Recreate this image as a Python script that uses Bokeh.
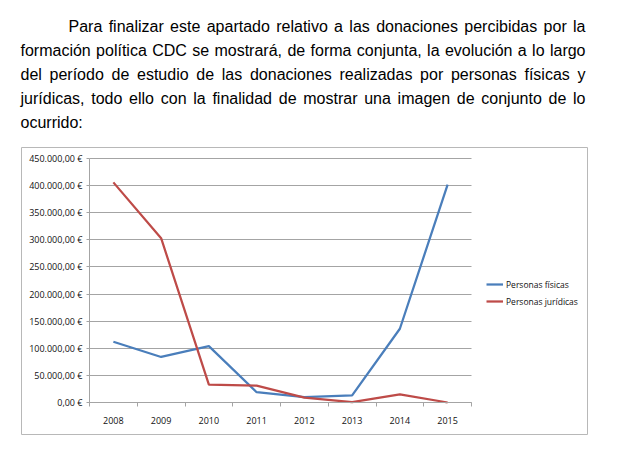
from bokeh.plotting import figure
from bokeh.models import (FixedTicker, Legend, LegendItem, Range1d, Label, BoxAnnotation,
                          Grid)
from bokeh.embed import file_html
from bokeh.resources import INLINE

# ---------------- data ----------------
years = [2008, 2009, 2010, 2011, 2012, 2013, 2014, 2015]
fisicas = [112000, 84000, 104000, 19000, 10000, 13000, 136000, 402000]
juridicas = [406000, 303000, 33000, 31000, 9000, 500, 15000, 0]
series_names = ["Personas físicas", "Personas jurídicas"]
y_ticks = [0, 50000, 100000, 150000, 200000, 250000, 300000, 350000, 400000, 450000]
y_labels = ["0,00 €", "50.000,00 €", "100.000,00 €", "150.000,00 €", "200.000,00 €",
            "250.000,00 €", "300.000,00 €", "350.000,00 €", "400.000,00 €", "450.000,00 €"]
paragraph = [
    "Para finalizar este apartado relativo a las donaciones percibidas por la",
    "formación política CDC se mostrará, de forma conjunta, la evolución a lo largo",
    "del período de estudio de las donaciones realizadas por personas físicas y",
    "jurídicas, todo ello con la finalidad de mostrar una imagen de conjunto de lo",
    "ocurrido:",
]

# ---------------- layout constants (page px, from top-left) ----------------
W, H = 620, 451
PL, PR, PT, PB = 89, 471, 158, 402      # plot area
BOX = (21, 587, 147, 434)               # chart container box: left, right, top, bottom
BLUE, RED = "#4a7ebb", "#be4b48"
GRID = "#a4a4a4"
CHART_FONT = "Open Sans"
TICK_FS = "9px"

# data ranges chosen so the plot area lands at PL..PR / PT..PB while the
# frame covers the whole page (so page texts are not clipped)
x_lo, x_hi = years[0] - 0.5, years[-1] + 0.5
y_lo, y_hi = y_ticks[0], y_ticks[-1]
xpp = (x_hi - x_lo) / (PR - PL)
ypp = (y_hi - y_lo) / (PB - PT)
p = figure(width=W, height=H, output_backend="svg", toolbar_location=None,
           x_range=Range1d(x_lo - PL * xpp, x_hi + (W - PR) * xpp),
           y_range=Range1d(y_lo - (H - PB) * ypp, y_hi + PT * ypp),
           min_border=0, min_border_left=0, min_border_right=0,
           min_border_top=0, min_border_bottom=0)
p.outline_line_color = None
p.background_fill_color = "white"
p.border_fill_color = "white"

# x axis: labels at year centers, tick marks at category boundaries
p.xaxis.fixed_location = y_lo
p.xaxis.bounds = (x_lo, x_hi)
p.xaxis.ticker = FixedTicker(ticks=years,
                             minor_ticks=[y - 0.5 for y in years] + [x_hi])
p.xaxis.major_label_overrides = {y: str(y) for y in years}
p.xaxis.major_tick_out = 0
p.xaxis.major_tick_in = 0
p.xaxis.minor_tick_out = 4
p.xaxis.minor_tick_in = 0
p.xaxis.minor_tick_line_color = GRID
p.xaxis.axis_line_color = GRID
p.xaxis.major_label_standoff = 10
p.xaxis.major_label_text_font = CHART_FONT
p.xaxis.major_label_text_font_size = TICK_FS
p.xaxis.major_label_text_color = "#111111"

# y axis
p.yaxis.fixed_location = x_lo
p.yaxis.bounds = (y_lo, y_hi)
p.yaxis.ticker = FixedTicker(ticks=y_ticks)
p.yaxis.major_label_overrides = dict(zip(y_ticks, y_labels))
p.yaxis.major_tick_out = 3
p.yaxis.major_tick_in = 0
p.yaxis.minor_tick_line_color = None
p.yaxis.major_tick_line_color = GRID
p.yaxis.axis_line_color = GRID
p.yaxis.major_label_standoff = 4
p.yaxis.major_label_text_font = CHART_FONT
p.yaxis.major_label_text_font_size = TICK_FS
p.yaxis.major_label_text_color = "#111111"

p.xgrid.visible = False
p.ygrid.ticker = FixedTicker(ticks=y_ticks)
p.ygrid.bounds = (y_lo, y_hi)
p.ygrid.grid_line_color = GRID
p.ygrid.grid_line_width = 1
if "cross_bounds" in Grid.properties():
    p.ygrid.cross_bounds = (x_lo, x_hi)
else:
    p.ygrid.visible = False
    p.segment(x0=[x_lo] * len(y_ticks), x1=[x_hi] * len(y_ticks), y0=y_ticks, y1=y_ticks,
              line_color=GRID, line_width=1)

# chart container box
p.add_layout(BoxAnnotation(left=BOX[0], right=BOX[1], top=H - BOX[2], bottom=H - BOX[3],
                           left_units="screen", right_units="screen",
                           top_units="screen", bottom_units="screen",
                           fill_alpha=0, line_color="#b8b8b8", line_alpha=1, line_width=1))

r1 = p.line(years, fisicas, line_color=BLUE, line_width=2.25)
r2 = p.line(years, juridicas, line_color=RED, line_width=2.25)

legend = Legend(items=[LegendItem(label=series_names[0], renderers=[r1]),
                       LegendItem(label=series_names[1], renderers=[r2])],
                location=(486, H - 308),
                glyph_width=17, glyph_height=14, label_height=14,
                label_standoff=3, spacing=3, padding=0, margin=0,
                border_line_color=None, background_fill_alpha=0,
                label_text_font=CHART_FONT, label_text_font_size="8.5px",
                label_text_color="#111111")
p.add_layout(legend, "center")

# ---------------- justified paragraph ----------------
CW = {'a': 556, 'b': 556, 'c': 500, 'd': 556, 'e': 556, 'f': 278, 'g': 556, 'h': 556,
      'i': 222, 'j': 222, 'k': 500, 'l': 222, 'm': 833, 'n': 556, 'o': 556, 'p': 556,
      'q': 556, 'r': 333, 's': 500, 't': 278, 'u': 556, 'v': 500, 'w': 722, 'x': 500,
      'y': 500, 'z': 500, 'P': 667, 'C': 722, 'D': 722, 'á': 556, 'é': 556, 'í': 278,
      'ó': 556, 'ú': 556, ',': 278, ':': 278, '.': 278, ' ': 278}
FS = 16


def tw(s):
    return sum(CW.get(c, 556) for c in s) * FS / 1000.0


line_starts = [68, 20, 20, 20, 20]
justified = [True, True, True, True, False]
baselines = [26, 50, 74, 98, 122]
RIGHT = 585
for text, x0, just, base in zip(paragraph, line_starts, justified, baselines):
    words = text.split(" ")
    if just and len(words) > 1:
        gap = (RIGHT - x0 - sum(tw(w) for w in words)) / (len(words) - 1)
    else:
        gap = tw(" ")
    x = x0
    for i, w in enumerate(words):
        last = just and i == len(words) - 1
        p.add_layout(Label(x=RIGHT if last else x, y=H - base,
                           x_units="screen", y_units="screen", text=w,
                           text_align="right" if last else "left",
                           text_baseline="alphabetic",
                           text_font="Liberation Sans", text_font_size=f"{FS}px",
                           text_color="#000000"))
        x += tw(w) + gap

open("out.html", "w").write(file_html(p, INLINE))
